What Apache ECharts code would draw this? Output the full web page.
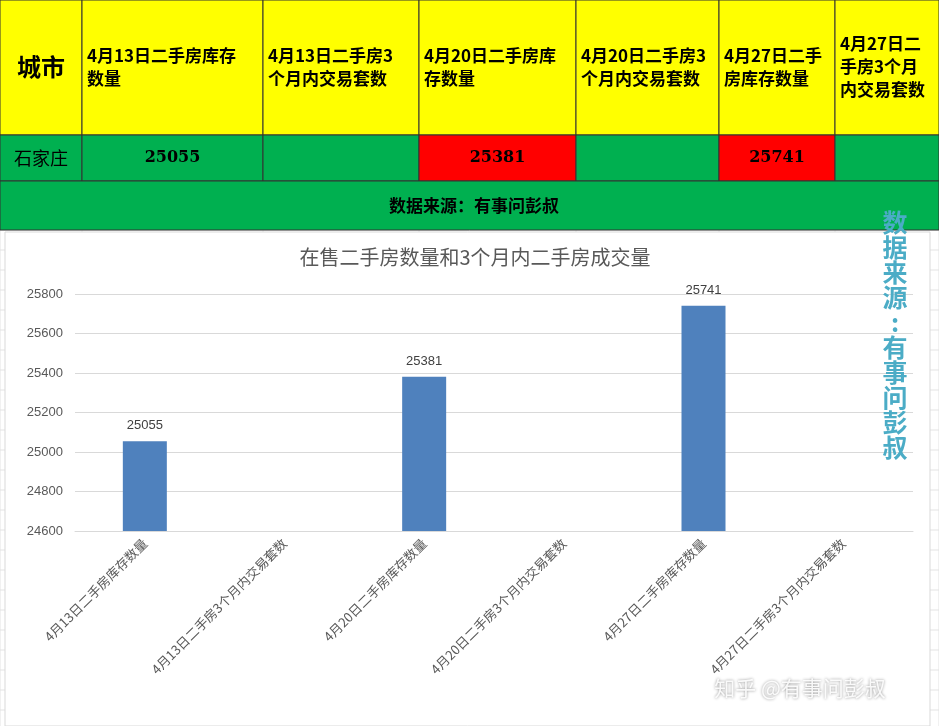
<!DOCTYPE html>
<html><head><meta charset="utf-8">
<script src="https://cdn.jsdelivr.net/npm/echarts@6/dist/echarts.min.js"></script>
<style>html,body{margin:0;padding:0;background:#fff}#c{width:939px;height:726px}</style>
</head><body><div id="c"></div>
<script>
const categories = ['4月13日二手房库存数量','4月13日二手房3个月内交易套数','4月20日二手房库存数量','4月20日二手房3个月内交易套数','4月27日二手房库存数量','4月27日二手房3个月内交易套数'];
const values = [25055, null, 25381, null, 25741, null];
const headerTexts = ['城市','4月13日二手房库存\n数量','4月13日二手房3\n个月内交易套数','4月20日二手房库\n存数量','4月20日二手房3\n个月内交易套数','4月27日二手\n房库存数量','4月27日二\n手房3个月\n内交易套数'];
const rowTexts = ['石家庄','25055','','25381','','25741',''];
const rowColors = ['#00B050','#00B050','#00B050','#FF0000','#00B050','#FF0000','#00B050'];
const colX = [0,82,263,419,576,719,835,939];

const g = [];
for (let y=230; y<726; y+=20) g.push({type:'line',shape:{x1:0,y1:y,x2:939,y2:y},style:{stroke:'#e3e3e3',lineWidth:1},z:0});
for (let i=0;i<colX.length;i++) g.push({type:'line',shape:{x1:colX[i],y1:230,x2:colX[i],y2:726},style:{stroke:'#e3e3e3',lineWidth:1},z:0});
for (let i=0;i<7;i++){
  const x=colX[i], w=colX[i+1]-x;
  g.push({type:'rect',shape:{x:x,y:0,width:w,height:135},style:{fill:'#FFFF00',stroke:'#333',lineWidth:1},z:1});
  g.push({type:'text',x: i===0? x+w/2 : x+5, y:67, style:{text:headerTexts[i],fill:'#000',font: i===0?'bold 24px "Noto Sans CJK SC"':'bold 17px "Noto Sans CJK SC"',lineHeight:23,align:i===0?'center':'left',verticalAlign:'middle'},z:2});
  g.push({type:'rect',shape:{x:x,y:135,width:w,height:46},style:{fill:rowColors[i],stroke:'#333',lineWidth:1},z:1});
  g.push({type:'text',x:x+w/2,y:158,style:{text:rowTexts[i],fill:'#000',font:i===0?'18px "Noto Sans CJK SC"':'bold 16px "DejaVu Serif"',align:'center',verticalAlign:'middle'},z:2});
}
g.push({type:'rect',shape:{x:0,y:181,width:939,height:49},style:{fill:'#00B050',stroke:'#333',lineWidth:1},z:1});
g.push({type:'text',x:474,y:206,style:{text:'数据来源：有事问彭叔',fill:'#000',font:'bold 17px "Noto Sans CJK SC"',align:'center',verticalAlign:'middle'},z:2});
g.push({type:'rect',shape:{x:5,y:232,width:925,height:494},style:{fill:'#fff',stroke:'#d9d9d9',lineWidth:1},z:1});
g.push({type:'text',x:895,y:335,style:{text:'数据来源:有事问彭叔'.split('').join('\n'),fill:'#4BACC6',font:'bold 25px "Noto Sans CJK SC"',lineHeight:25,align:'center',verticalAlign:'middle'},z:5});
g.push({type:'text',x:800,y:688,style:{text:'知乎 @有事问彭叔',fill:'rgba(255,255,255,0.9)',font:'21px "Noto Sans CJK SC"',align:'center',verticalAlign:'middle',textShadowColor:'rgba(0,0,0,0.5)',textShadowBlur:3},z:5});

const chart = echarts.init(document.getElementById('c'));
chart.setOption({
  animation:false,
  graphic:g,
  title:{text:'在售二手房数量和3个月内二手房成交量',left:470,top:242,textAlign:'center',textStyle:{color:'#595959',fontSize:20,fontWeight:'normal',fontFamily:'Noto Sans CJK SC'},z:3},
  grid:{left:75,right:26,top:294,height:237},
  xAxis:{type:'category',data:categories,z:3,axisTick:{show:false},axisLine:{lineStyle:{color:'#d9d9d9'}},
    axisLabel:{rotate:45,interval:0,color:'#595959',fontSize:13,fontFamily:'Noto Sans CJK SC',margin:10}},
  yAxis:{type:'value',min:24600,max:25800,interval:200,z:3,axisLine:{show:false},axisTick:{show:false},
    splitLine:{lineStyle:{color:'#d9d9d9'}},axisLabel:{color:'#595959',fontSize:13,margin:12,formatter:v=>String(v)}},
  series:[{type:'bar',data:values,barWidth:44,z:3,itemStyle:{color:'#4F81BD'},
    label:{show:true,position:'top',distance:9,color:'#404040',fontSize:13}}]
});
</script></body></html>
